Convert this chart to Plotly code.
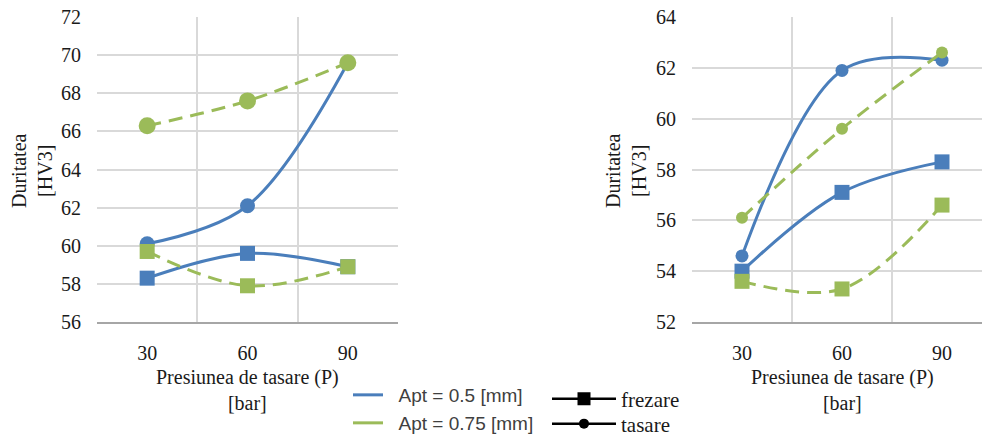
import plotly.graph_objects as go

# Pressure levels (bar)
pressure = [30, 60, 90]
pressure_labels = ["30", "60", "90"]

# Left panel – hardness HV3
left_apt05_frezare = [58.3, 59.6, 58.9]
left_apt05_tasare = [60.1, 62.1, 69.6]
left_apt075_frezare = [59.7, 57.9, 58.9]
left_apt075_tasare = [66.3, 67.6, 69.6]

# Right panel – hardness HV3
right_apt05_frezare = [54.0, 57.1, 58.3]
right_apt05_tasare = [54.6, 61.9, 62.3]
right_apt075_frezare = [53.6, 53.3, 56.6]
right_apt075_tasare = [56.1, 59.6, 62.6]

W, H = 982, 437
BLUE = "#4a7ebb"
GREEN = "#9bbb59"
GRID = "#d9d9d9"
SERIF = "Liberation Serif"
TEXT = "#1a1a1a"


def fx(p):
    return p / W


def fy(p):
    return 1 - p / H


fig = go.Figure()


def add_panel(xa, ya, f05, t05, f075, t075, circ05, circ075):
    fig.add_trace(go.Scatter(
        x=pressure, y=f05, mode="lines+markers", xaxis=xa, yaxis=ya,
        line=dict(color=BLUE, width=3, shape="spline", smoothing=1),
        marker=dict(symbol="square", size=15, color=BLUE), showlegend=False))
    fig.add_trace(go.Scatter(
        x=pressure, y=t05, mode="lines+markers", xaxis=xa, yaxis=ya,
        line=dict(color=BLUE, width=3, shape="spline", smoothing=1),
        marker=dict(symbol="circle", size=circ05, color=BLUE), showlegend=False))
    fig.add_trace(go.Scatter(
        x=pressure, y=f075, mode="lines+markers", xaxis=xa, yaxis=ya,
        line=dict(color=GREEN, width=3, dash="14px,8px", shape="spline", smoothing=1),
        marker=dict(symbol="square", size=15, color=GREEN), showlegend=False))
    fig.add_trace(go.Scatter(
        x=pressure, y=t075, mode="lines+markers", xaxis=xa, yaxis=ya,
        line=dict(color=GREEN, width=3, dash="14px,8px", shape="spline", smoothing=1),
        marker=dict(symbol="circle", size=circ075, color=GREEN), showlegend=False))


add_panel("x", "y", left_apt05_frezare, left_apt05_tasare,
          left_apt075_frezare, left_apt075_tasare, 15, 17)
add_panel("x2", "y2", right_apt05_frezare, right_apt05_tasare,
          right_apt075_frezare, right_apt075_tasare, 13, 12)

# Legend entries
fig.add_trace(go.Scatter(x=[None], y=[None], mode="lines", name="\u00a0\u00a0Apt = 0.5 [mm]",
                         line=dict(color=BLUE, width=3), legend="legend"))
fig.add_trace(go.Scatter(x=[None], y=[None], mode="lines", name="\u00a0\u00a0Apt = 0.75 [mm]",
                         line=dict(color=GREEN, width=3), legend="legend2"))
fig.add_trace(go.Scatter(x=[None], y=[None], mode="lines+markers", name="frezare",
                         line=dict(color="black", width=2.5),
                         marker=dict(symbol="square", size=13, color="black"), legend="legend3"))
fig.add_trace(go.Scatter(x=[None], y=[None], mode="lines+markers", name="tasare",
                         line=dict(color="black", width=2.5),
                         marker=dict(symbol="circle", size=10, color="black"), legend="legend4"))

xcommon = dict(
    tickmode="array", tickvals=pressure, ticktext=pressure_labels,
    showgrid=False, zeroline=False, ticks="", automargin=False,
    showline=True, linecolor="#a6a6a6", linewidth=1.5,
    ticklabelstandoff=12,
    tickfont=dict(family=SERIF, size=20, color=TEXT),
    minor=dict(tickmode="array", tickvals=[15, 45, 75, 105], showgrid=True,
               gridcolor=GRID, gridwidth=1.5, ticks=""),
)
ycommon = dict(
    dtick=2, showgrid=True, gridcolor=GRID, gridwidth=1.5, zeroline=False,
    ticks="", showline=False, ticklabelstandoff=15, automargin=False,
    tickfont=dict(family=SERIF, size=20, color=TEXT),
    domain=[fy(322), fy(17)],
)

legend_base = dict(bgcolor="rgba(0,0,0,0)", borderwidth=0, xanchor="left",
                   yanchor="middle", tracegroupgap=0)
sans_font = dict(family="Liberation Sans", size=19, color="#404040")
serif_font = dict(family=SERIF, size=21, color=TEXT)

fig.update_layout(
    width=W, height=H, autosize=False,
    margin=dict(l=0, r=0, t=0, b=0, autoexpand=False),
    paper_bgcolor="white", plot_bgcolor="white",
    xaxis=dict(xcommon, domain=[fx(97), fx(398)], range=[15, 105], anchor="y"),
    yaxis=dict(ycommon, range=[56, 72], anchor="x"),
    xaxis2=dict(xcommon, domain=[fx(692), 1.0], range=[15, 102], anchor="y2"),
    yaxis2=dict(ycommon, range=[52, 64], anchor="x2"),
    legend=dict(legend_base, x=fx(348), y=fy(395), itemwidth=30, font=sans_font),
    legend2=dict(legend_base, x=fx(348), y=fy(423), itemwidth=30, font=sans_font),
    legend3=dict(legend_base, x=fx(547), y=fy(399), itemwidth=64, font=serif_font),
    legend4=dict(legend_base, x=fx(547), y=fy(424), itemwidth=64, font=serif_font),
    annotations=[
        dict(text="Presiunea de tasare (P)<br>[bar]", x=fx(247), y=fy(389.5),
             xref="paper", yref="paper", showarrow=False, xanchor="center", yanchor="middle",
             font=dict(family=SERIF, size=20, color=TEXT)),
        dict(text="Presiunea de tasare (P)<br>[bar]", x=fx(842), y=fy(389.5),
             xref="paper", yref="paper", showarrow=False, xanchor="center", yanchor="middle",
             font=dict(family=SERIF, size=20, color=TEXT)),
        dict(text="Duritatea<br>[HV3]", x=fx(32), y=fy(170), textangle=-90,
             xref="paper", yref="paper", showarrow=False, xanchor="center", yanchor="middle",
             font=dict(family=SERIF, size=20, color=TEXT)),
        dict(text="Duritatea<br>[HV3]", x=fx(626), y=fy(171), textangle=-90,
             xref="paper", yref="paper", showarrow=False, xanchor="center", yanchor="middle",
             font=dict(family=SERIF, size=20, color=TEXT)),
    ],
)

fig.write_html("out.html")
